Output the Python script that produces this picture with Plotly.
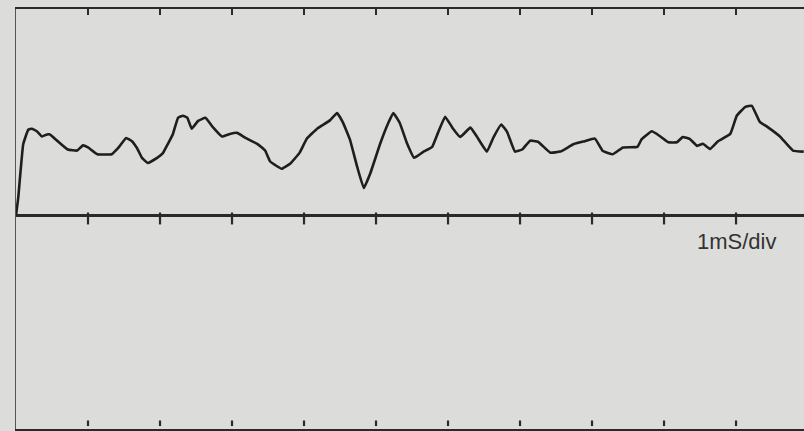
import plotly.graph_objects as go

# time (ms) and amplitude (div)
time_ms = [0.00, 0.03, 0.10, 0.17, 0.22, 0.29, 0.36, 0.43, 0.47, 0.58, 0.72, 0.85, 0.93, 1.00,
           1.13, 1.33, 1.42, 1.53, 1.61, 1.68, 1.75, 1.83, 1.96, 2.04, 2.11, 2.18, 2.25, 2.32,
           2.38, 2.44, 2.53, 2.63, 2.74, 2.86, 2.97, 3.07, 3.18, 3.35, 3.46, 3.53, 3.69, 3.81,
           3.94, 4.04, 4.19, 4.36, 4.46, 4.54, 4.64, 4.74, 4.83, 4.92, 5.06, 5.17, 5.24, 5.33,
           5.43, 5.53, 5.65, 5.78, 5.86, 5.96, 6.06, 6.17, 6.31, 6.40, 6.54, 6.63, 6.74, 6.82,
           6.93, 7.03, 7.14, 7.25, 7.42, 7.56, 7.74, 7.90, 8.04, 8.15, 8.29, 8.43, 8.63, 8.69,
           8.83, 8.94, 9.06, 9.18, 9.26, 9.36, 9.46, 9.54, 9.64, 9.75, 9.92, 10.01, 10.13, 10.22,
           10.33, 10.43, 10.61, 10.79, 10.94]
amplitude = [0.00, 0.33, 1.37, 1.65, 1.67, 1.62, 1.52, 1.56, 1.56, 1.43, 1.27, 1.25, 1.35, 1.31,
             1.18, 1.18, 1.30, 1.49, 1.43, 1.30, 1.11, 1.01, 1.11, 1.20, 1.38, 1.57, 1.88, 1.92,
             1.88, 1.67, 1.82, 1.88, 1.69, 1.52, 1.57, 1.59, 1.50, 1.38, 1.25, 1.04, 0.90, 1.00,
             1.21, 1.48, 1.68, 1.83, 1.97, 1.79, 1.45, 0.93, 0.53, 0.81, 1.39, 1.78, 1.97, 1.78,
             1.39, 1.11, 1.22, 1.32, 1.59, 1.90, 1.69, 1.51, 1.69, 1.52, 1.23, 1.50, 1.75, 1.61,
             1.23, 1.27, 1.44, 1.42, 1.21, 1.23, 1.37, 1.43, 1.48, 1.24, 1.18, 1.31, 1.32, 1.47,
             1.62, 1.53, 1.41, 1.41, 1.51, 1.47, 1.34, 1.38, 1.28, 1.43, 1.57, 1.92, 2.09, 2.11,
             1.80, 1.71, 1.52, 1.25, 1.23]

div_ticks = [1, 2, 3, 4, 5, 6, 7, 8, 9, 10]
timebase_label = "1mS/div"

x_range = [0, 10.944]
y_range = [-4.10, 3.97]

ink = "#2a2a2a"
paper = "#dcdcda"

fig = go.Figure()

fig.add_trace(go.Scatter(
    x=time_ms, y=amplitude, mode="lines",
    line=dict(color="#1e1e1e", width=2.6, shape="spline", smoothing=0.3),
    hoverinfo="skip", showlegend=False,
))

# bottom row of grid dots
fig.add_trace(go.Scatter(
    x=div_ticks, y=[y_range[0] + 0.11] * len(div_ticks), mode="markers",
    marker=dict(symbol="line-ns", size=4, line=dict(color=ink, width=2.2)),
    hoverinfo="skip", showlegend=False,
))

# a dummy trace on the top axis so the top ticks render
fig.add_trace(go.Scatter(x=[None], y=[None], xaxis="x2", showlegend=False, hoverinfo="skip"))

# ticks crossing the zero (time) axis
for t in div_ticks:
    fig.add_shape(type="line", xref="x", yref="y", x0=t, x1=t, y0=0.06, y1=-0.17,
                  line=dict(color=ink, width=2.2))

fig.add_annotation(
    x=div_ticks[-1], y=-0.5, xref="x", yref="y", text=timebase_label, showarrow=False,
    font=dict(family="Liberation Sans, Arial, sans-serif", size=22, color="#333333"),
    xanchor="center", yanchor="middle",
)

fig.update_layout(
    width=804, height=431,
    margin=dict(l=16, r=0, t=9, b=2),
    paper_bgcolor=paper, plot_bgcolor=paper,
    xaxis=dict(range=x_range, showgrid=False, zeroline=False, showline=True, mirror=True,
               linecolor=ink, linewidth=2, ticks="", showticklabels=False, fixedrange=True),
    xaxis2=dict(range=x_range, overlaying="x", side="top", showgrid=False, zeroline=False,
                showline=False, ticks="inside", ticklen=6, tickwidth=2, tickcolor=ink,
                tickvals=div_ticks, showticklabels=False),
    yaxis=dict(range=y_range, showgrid=False, zeroline=True, zerolinecolor=ink, zerolinewidth=2.5,
               showline=True, linecolor="#555555", linewidth=1.5, ticks="", showticklabels=False,
               fixedrange=True),
    showlegend=False,
)

fig.write_html(
    "out.html",
    config={"displayModeBar": False, "staticPlot": True},
    post_script="document.body.style.margin='0';document.body.style.background='%s';" % paper,
)
